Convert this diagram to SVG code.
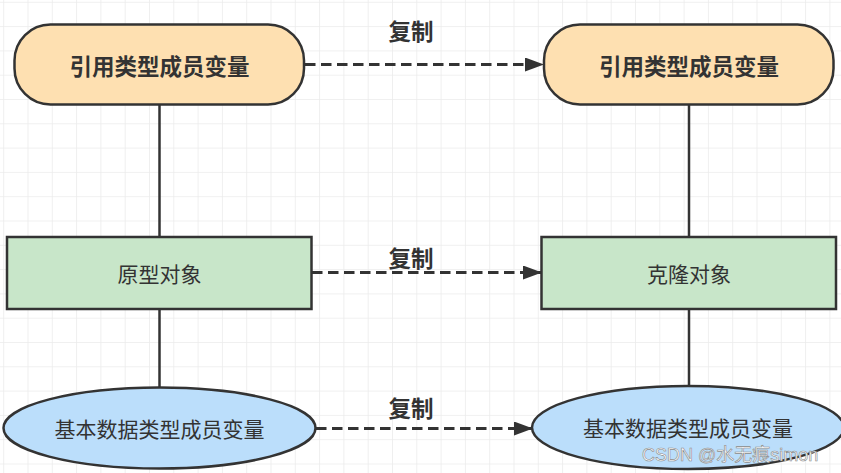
<svg xmlns="http://www.w3.org/2000/svg" width="841" height="473" viewBox="0 0 841 473">
<defs>
<pattern id="grid" x="3.2" y="1.8" width="24.3" height="24.3" patternUnits="userSpaceOnUse">
<path d="M0 0 H24.3 M0 0 V24.3" fill="none" stroke="#ebebeb" stroke-width="1.5"/>
</pattern>
<marker id="arr" viewBox="0 0 19 14" refX="18" refY="7" markerWidth="19" markerHeight="14" markerUnits="userSpaceOnUse" orient="auto">
<path d="M0 0 L19 7 L0 14 Z" fill="#333"/>
</marker>
<style>
.box{stroke:#333;stroke-width:2.5}
.ref{fill:#fee0b1}
.obj{fill:#c8e6c9}
.prim{fill:#bbdefb}
.t{font-family:"Noto Sans CJK SC","Noto Sans",sans-serif;font-size:21px;fill:#333;text-anchor:middle;dominant-baseline:central}
.b{font-weight:bold;font-size:22.5px}
.line{stroke:#333;stroke-width:2.5;fill:none}
.dash{stroke:#333;stroke-width:3.2;fill:none;stroke-dasharray:10.5 5.5}
.wm{font-family:"Liberation Sans","Noto Sans CJK SC",sans-serif;font-size:18px;fill:#ffffff;stroke:#8a8a8a;stroke-width:0.6}
</style>
</defs>
<rect width="841" height="473" fill="#ffffff"/>
<rect width="841" height="473" fill="url(#grid)"/>
<g id="connectors">
<line class="line" x1="159.5" y1="104" x2="159.5" y2="237"/>
<line class="line" x1="159.5" y1="309" x2="159.5" y2="388"/>
<line class="line" x1="689" y1="104" x2="689" y2="237"/>
<line class="line" x1="689" y1="309" x2="689" y2="386"/>
<line class="dash" x1="305" y1="64.5" x2="543" y2="64.5" marker-end="url(#arr)"/>
<line class="dash" x1="312" y1="272.5" x2="541" y2="272.5" marker-end="url(#arr)"/>
<line class="dash" x1="316" y1="428.5" x2="532" y2="428.5" marker-end="url(#arr)"/>
<text class="t b" x="411" y="30">复制</text>
<text class="t b" x="411" y="257">复制</text>
<text class="t b" x="411" y="407">复制</text>
</g>
<g id="ref-src">
<rect class="box ref" x="14.5" y="24.5" width="289.5" height="80" rx="36" ry="36"/>
<text class="t b" x="159.5" y="65">引用类型成员变量</text>
</g>
<g id="ref-dst">
<rect class="box ref" x="544" y="24.5" width="289.5" height="80" rx="36" ry="36"/>
<text class="t b" x="689" y="65">引用类型成员变量</text>
</g>
<g id="proto">
<rect class="box obj" x="7" y="237" width="304.5" height="72"/>
<text class="t" x="159.5" y="273">原型对象</text>
</g>
<g id="clone">
<rect class="box obj" x="541.5" y="237" width="294.5" height="72"/>
<text class="t" x="689" y="273">克隆对象</text>
</g>
<g id="prim-src">
<ellipse class="box prim" cx="159.5" cy="428" rx="156" ry="40.5"/>
<text class="t" x="159.5" y="428">基本数据类型成员变量</text>
</g>
<g id="prim-dst">
<ellipse class="box prim" cx="688" cy="427.5" rx="156" ry="41.5"/>
<text class="t" x="688" y="427">基本数据类型成员变量</text>
</g>
<text class="wm" x="642" y="461">CSDN @水无痕simon</text>
</svg>
